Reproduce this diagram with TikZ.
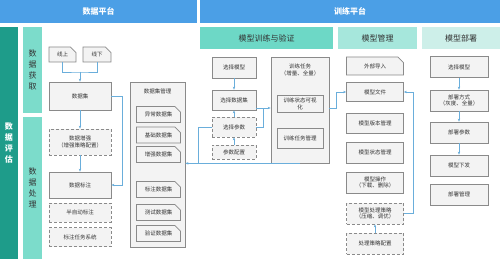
\documentclass[tikz,border=0pt]{standalone}
\usepackage{fontspec}
\setmainfont{Noto Sans CJK SC}
\usepackage{tikz}
\usetikzlibrary{arrows.meta, positioning, calc, shapes.misc}

\definecolor{ptblue}{HTML}{4B9FE6}
\definecolor{tealdark}{HTML}{1E9C8A}
\definecolor{tealmid}{HTML}{7CDCCB}
\definecolor{tealsec}{HTML}{6DD8C6}
\definecolor{teallight}{HTML}{A6E7DC}
\definecolor{tealpale}{HTML}{CDEFE9}
\definecolor{boxfill}{HTML}{F3F3F3}
\definecolor{boxline}{HTML}{8A8A8A}
\definecolor{lnkblue}{HTML}{6AAEDB}
\definecolor{textdark}{HTML}{333333}

\begin{document}
\begin{tikzpicture}[x=1pt, y=-1pt,
  box/.style={draw=boxline, fill=boxfill, line width=0.7pt, text=textdark,
    minimum width=58pt, minimum height=20pt, inner sep=1pt, align=center,
    font=\fontsize{5.5}{6.8}\selectfont},
  dbox/.style={box, densely dashed},
  cbox/.style={box, chamfered rectangle, chamfered rectangle corners=north east,
    chamfered rectangle xsep=2pt},
  lnk/.style={draw=lnkblue, line width=0.6pt},
  arr/.style={lnk, -{Stealth[length=3pt, width=2.4pt]}},
  bar/.style={fill=ptblue, text=white, inner sep=0pt, minimum height=23pt,
    font=\fontsize{8}{9}\selectfont\bfseries},
  sec/.style={text=textdark, inner sep=0pt, minimum height=22pt, align=center,
    font=\fontsize{8}{9}\selectfont}]

  \useasboundingbox[fill=white] (0,0) rectangle (500,259);

  % 平台
  \node[bar, minimum width=197pt] (pdata) at (98.5,11.5) {数据平台};
  \node[bar, minimum width=300pt] (ptrain) at (350,11.5) {训练平台};

  % 左侧竖条
  \node[sec, fill=tealdark, text=white, minimum width=18pt, minimum height=232pt,
    font=\fontsize{8}{11}\selectfont\bfseries] (eval) at (9,143) {数\\据\\评\\估};
  \node[sec, fill=tealmid, minimum width=19pt, minimum height=86pt,
    font=\fontsize{8}{11}\selectfont] (acq) at (32.5,70) {数\\据\\获\\取};
  \node[sec, fill=tealmid, minimum width=19pt, minimum height=142pt,
    font=\fontsize{8}{11}\selectfont] (proc) at (32.5,188) {数\\据\\处\\理};

  % 训练平台的分区
  \node[sec, fill=tealsec, minimum width=133pt] (htrain) at (266.5,38) {模型训练与验证};
  \node[sec, fill=teallight, minimum width=79pt] (hmodel) at (377.5,38) {模型管理};
  \node[sec, fill=tealpale, minimum width=78pt] (hdeploy) at (461,38) {模型部署};

  % 数据获取与处理
  \node[cbox, minimum width=27pt, minimum height=15pt] (on) at (62.5,54.5) {线上};
  \node[cbox, minimum width=28pt, minimum height=15pt] (off) at (97,54.5) {线下};
  \node[box, minimum width=62pt, minimum height=28pt] (ds) at (80,96) {数据集};
  \node[dbox, minimum width=62pt, minimum height=26pt] (aug) at (80,142) {数据增强\\（增强策略配置）};
  \node[box, minimum width=62pt, minimum height=26pt] (lab) at (80,185) {数据标注};
  \node[dbox, minimum width=62pt, minimum height=19pt] (semi) at (80,212.5) {半自动标注};
  \node[dbox, minimum width=62pt, minimum height=19pt] (tsys) at (80,237) {标注任务系统};

  % 数据集管理
  \node[box, minimum width=55pt, minimum height=165pt] (mgmt) at (157.5,164.5) {};
  \node[text=textdark, font=\fontsize{5.5}{6.8}\selectfont] (mgmtt) at (157.5,91) {数据集管理};
  \foreach \n/\y/\t in {a/114.5/异常数据集, b/135/基础数据集, c/154.5/增强数据集,
      d/189.5/标注数据集, e/212.5/测试数据集, f/233.5/验证数据集} {
    \node[cbox, minimum width=44pt, minimum height=16pt] (set\n) at (158.5,\y) {\t};
  }

  % 模型训练与验证
  \node[box, minimum width=44pt, minimum height=21pt] (tm) at (234,67.5) {选择模型};
  \node[box, minimum width=44pt, minimum height=20pt] (tds) at (234,100) {选择数据集};
  \node[dbox, minimum width=44pt, minimum height=20pt] (tpar) at (234,127) {选择参数};
  \node[dbox, minimum width=44pt, minimum height=14pt] (tcfg) at (234,152) {参数配置};
  \node[box, minimum width=58pt, minimum height=106pt] (task) at (300,110) {};
  \node[text=textdark, align=center, font=\fontsize{5.5}{6.8}\selectfont] (taskt) at (300,70) {训练任务\\（增量、全量）};
  \node[box, minimum width=46pt, minimum height=17pt] (vis) at (300,103.5) {训练状态可视\\化};
  \node[box, minimum width=46pt, minimum height=20pt] (tmg) at (300,138) {训练任务管理};

  % 模型管理
  \node[cbox, minimum width=57pt, minimum height=18pt] (ext) at (375,66) {外部导入};
  \node[box, minimum width=57pt, minimum height=19pt] (mf) at (375,92) {模型文件};
  \node[box, minimum width=57pt, minimum height=20pt] (mv) at (375,123) {模型版本管理};
  \node[box, minimum width=57pt, minimum height=21pt] (ms) at (375,152.5) {模型状态管理};
  \node[box, minimum width=57pt, minimum height=21pt] (mo) at (375,182.5) {模型操作\\（下载、删除）};
  \node[dbox, minimum width=57pt, minimum height=21pt] (mp) at (375,213.5) {模型处理策略\\（压缩、调优）};
  \node[dbox, minimum width=57pt, minimum height=21pt] (mc) at (375,243.5) {处理策略配置};

  % 模型部署
  \foreach \i/\y/\t in {1/67/选择模型, 2/100.5/部署方式\\（灰度、全量）, 3/132.5/部署参数,
      4/165.5/模型下发, 5/194.5/部署管理} {
    \node[box, minimum width=58pt, minimum height=21pt] (d\i) at (459,\y) {\t};
  }

  % 连线
  \coordinate (m1) at (80,72);
  \draw[lnk] (on.south) |- (m1) -| (off.south);
  \draw[arr] (m1) -- (ds.north);
  \draw[arr] (ds) -- (aug);
  \draw[arr] (aug) -- (lab);
  \coordinate (m2) at (122,96);
  \draw[arr] (ds.east) -- (m2) |- (lab.east);

  \draw[arr] (tm) -- (tds);
  \draw[arr] (tpar) -- (tds);
  \draw[arr] (tcfg) -- (tpar);
  \coordinate (m3) at (263,108);
  \draw[lnk] (tpar.east) -| (m3);
  \draw[arr] (tds.east |- m3) -- (task.west |- m3);
  \coordinate (m4) at (198,163);
  \draw[lnk] (tpar.west) -| (m4);
  \draw[arr] (task.south) -- (mgmt.east |- task.south);
  \coordinate (m5) at (336,108);
  \draw[arr] (task.east |- m5) -- (m5) |- (mf.west);

  \draw[arr] (mc) -- (mp);
  \coordinate (m6) at (413,213.5);
  \draw[arr] (mp.east) -- (m6) |- (mf.east);

  \foreach \a/\b in {1/2, 2/3, 3/4} {
    \draw[arr] (d\a) -- (d\b);
  }
\end{tikzpicture}
\end{document}
